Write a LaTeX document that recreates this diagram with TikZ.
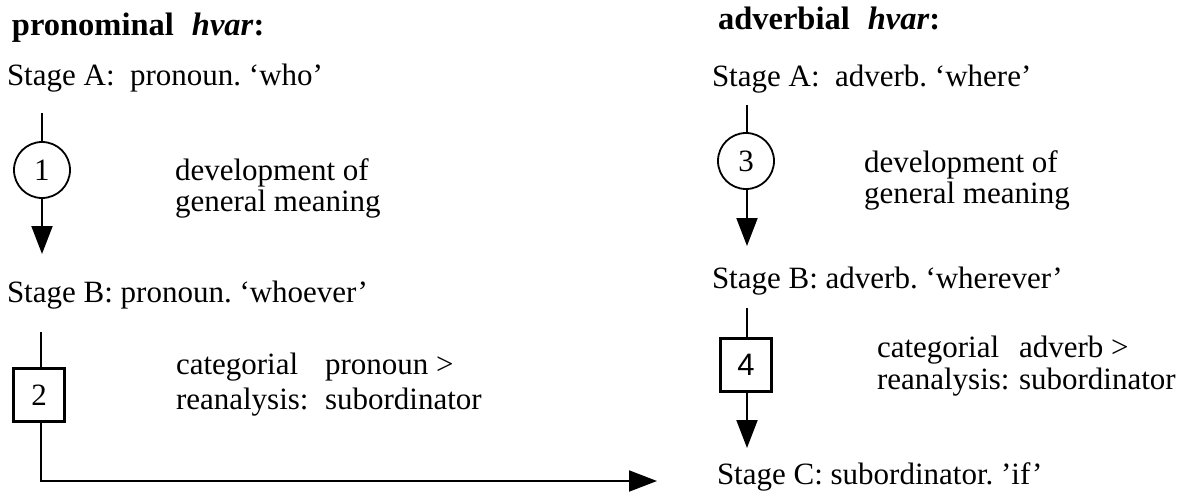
\documentclass[tikz,border=0pt]{standalone}
\usepackage{fontspec}
\setmainfont{Liberation Serif}
\newfontfamily\numsans{Liberation Sans}
\usetikzlibrary{arrows.meta}
\begin{document}
\frenchspacing
\begin{tikzpicture}[x=1pt,y=-1pt,
  every node/.style={inner sep=0pt,outer sep=0pt},
  txt/.style={anchor=base west,font=\fontsize{31}{36}\selectfont},
  head/.style={anchor=base west,font=\fontsize{32.5}{38}\selectfont\bfseries},
  ring/.style={draw,circle,line width=1.8pt,minimum size=56pt,font=\fontsize{31}{36}\selectfont},
  sq/.style={draw,rectangle,line width=2.2pt,minimum width=51pt,minimum height=53pt,font=\fontsize{31}{36}\selectfont},
  flow/.style={line width=2pt},
  tip/.style={line width=2pt,-{Triangle[length=28pt,width=21pt]}}]
\useasboundingbox (0,0) rectangle (1194,495);

% pronominal column
\node[head] (h1) at (12,36) {pronominal\hspace{18pt}\textit{hvar}:};
\node[txt] (a1) at (7,85) {Stage A:\ \ pronoun. `who'};
\coordinate (a1s) at (42,113);
\node[ring] (c1) at (42,170) {1};
\coordinate (a1e) at (42,254);
\node[txt] (d1) at (175,180) {development of};
\node[txt] (g1) at (175,211) {general meaning};
\node[txt] (b1) at (7,302) {Stage B: pronoun. `whoever'};
\coordinate (b1s) at (41,332);
\node[sq] (q2) at (39,395) {2};
\coordinate (k1) at (41,481);
\coordinate (k1e) at (657,481);
\node[txt] (r1a) at (176,374) {categorial};
\node[txt] (r1b) at (325,374) {pronoun >};
\node[txt] (r1c) at (176,409) {reanalysis:};
\node[txt] (r1d) at (325,409) {subordinator};

\draw[flow] (a1s) -- (c1);
\draw[tip] (c1) -- (a1e);
\draw[flow] (b1s) -- (q2.north -| b1s);
\draw[tip] (q2.south -| b1s) -- (k1) -- (k1e);

% adverbial column
\node[head] (h2) at (718,30) {adverbial\hspace{18pt}\textit{hvar}:};
\node[txt] (a2) at (712,87) {Stage A:\ \ adverb. `where'};
\coordinate (a2s) at (747,105);
\node[ring] (c3) at (746,161) {3};
\coordinate (a2e) at (747,246);
\node[txt] (d2) at (864,172) {development of};
\node[txt] (g2) at (864,203) {general meaning};
\node[txt] (b2) at (712,288) {Stage B: adverb. `wherever'};
\coordinate (b2s) at (747,308);
\node[sq,font=\numsans\fontsize{31}{36}\selectfont] (q4) at (746,365) {4};
\coordinate (b2e) at (747,448);
\node[txt] (r2a) at (877,357) {categorial};
\node[txt] (r2b) at (1019,357) {adverb >};
\node[txt] (r2c) at (877,389) {reanalysis:};
\node[txt] (r2d) at (1019,389) {subordinator};
\node[txt] (s2) at (717,484) {Stage C: subordinator. 'if'};

\draw[flow] (a2s) -- (c3.north -| a2s);
\draw[tip] (c3.south -| a2s) -- (a2e);
\draw[flow] (b2s) -- (q4.north -| b2s);
\draw[tip] (q4.south -| b2s) -- (b2e);
\end{tikzpicture}
\end{document}
